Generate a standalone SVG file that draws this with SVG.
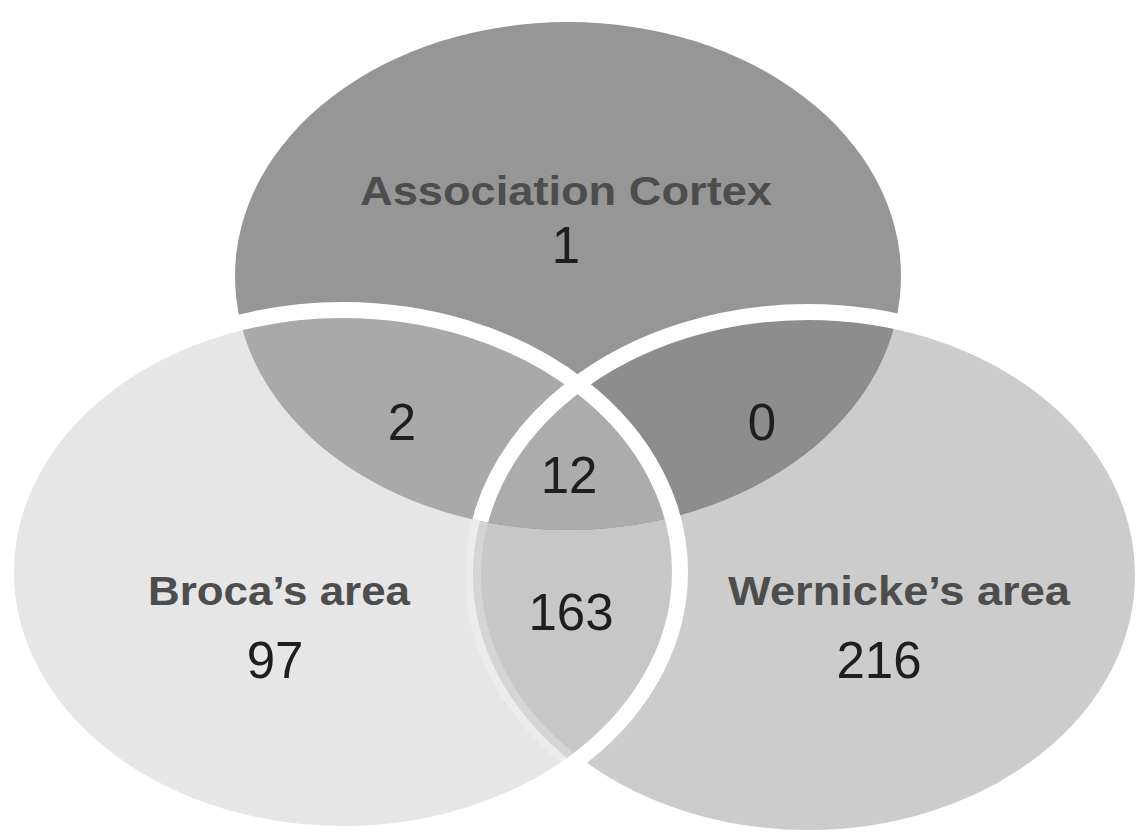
<svg xmlns="http://www.w3.org/2000/svg" width="1139" height="839" viewBox="0 0 1139 839">
  <style>
    .lbl { font-family: "Liberation Sans", Arial, sans-serif; font-weight: bold; font-size: 41px; fill: #4d4d4d; text-anchor: middle; }
    .num { font-family: "Liberation Sans", Arial, sans-serif; font-size: 51px; fill: #1e1e1e; text-anchor: middle; }
    .edge { fill: none; stroke: #ffffff; stroke-width: 16; }
  </style>
  <defs>
    <ellipse id="eT" cx="568" cy="276" rx="333" ry="254"/>
    <ellipse id="eB" cx="343" cy="572" rx="337" ry="262"/>
    <ellipse id="eW" cx="808" cy="575" rx="335" ry="263"/>
    <clipPath id="cB"><use href="#eB"/></clipPath>
    <clipPath id="cW"><use href="#eW"/></clipPath>
    <mask id="mW" maskUnits="userSpaceOnUse" x="0" y="0" width="1139" height="839">
      <rect x="0" y="0" width="1139" height="839" fill="#fff"/>
      <use href="#eB" fill="#000"/>
      <use href="#eT" fill="#fff"/>
    </mask>
  </defs>
  <rect x="0" y="0" width="1139" height="839" fill="#ffffff"/>

  <g id="association-cortex">
    <use href="#eT" fill="#969696"/>
  </g>
  <g id="brocas-area">
    <use href="#eB" fill="#e6e6e6"/>
  </g>
  <g id="wernickes-area">
    <use href="#eW" fill="#cccccc"/>
  </g>
  <g id="overlap-broca-wernicke">
    <use href="#eW" fill="#c7c7c7" clip-path="url(#cB)"/>
  </g>
  <g id="overlap-association-broca">
    <use href="#eT" fill="#a9a9a9" clip-path="url(#cB)"/>
  </g>
  <g id="overlap-association-wernicke">
    <use href="#eT" fill="#8d8d8d" clip-path="url(#cW)"/>
  </g>
  <g id="overlap-all" clip-path="url(#cW)">
    <use href="#eT" fill="#acacac" clip-path="url(#cB)"/>
  </g>

  <g id="outlines">
    <use href="#eW" class="edge" mask="url(#mW)"/>
    <use href="#eW" class="edge" opacity="0.25" clip-path="url(#cB)"/>
    <use href="#eB" class="edge"/>
  </g>

  <g id="labels">
    <text class="lbl" x="566" y="205" textLength="412" lengthAdjust="spacingAndGlyphs">Association Cortex</text>
    <text class="num" x="566" y="263">1</text>
    <text class="lbl" x="279" y="605" textLength="262" lengthAdjust="spacingAndGlyphs">Broca’s area</text>
    <text class="num" x="275" y="678">97</text>
    <text class="lbl" x="899" y="605" textLength="342" lengthAdjust="spacingAndGlyphs">Wernicke’s area</text>
    <text class="num" x="879" y="678">216</text>
    <text class="num" x="402" y="440">2</text>
    <text class="num" x="762" y="440">0</text>
    <text class="num" x="569" y="493">12</text>
    <text class="num" x="571" y="630">163</text>
  </g>
</svg>
